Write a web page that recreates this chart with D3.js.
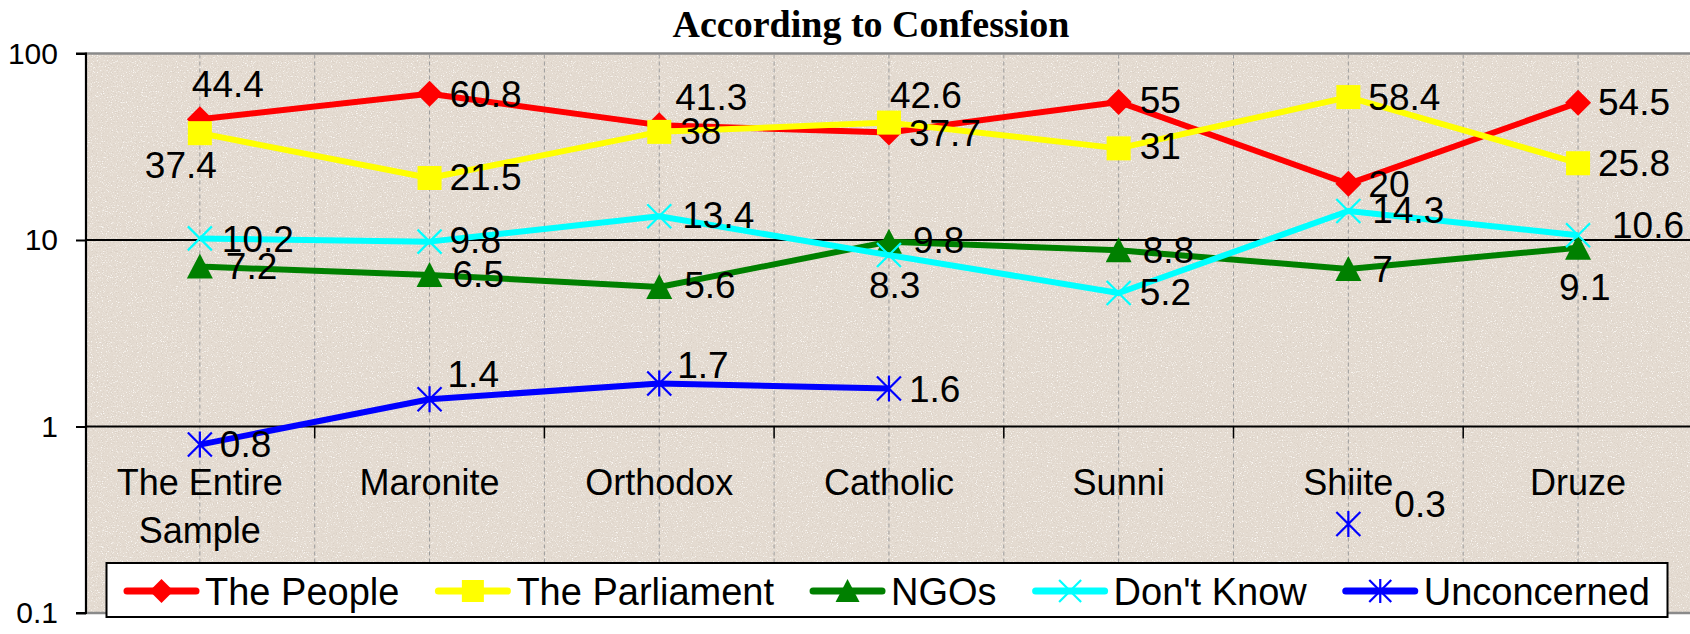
<!DOCTYPE html>
<html>
<head>
<meta charset="utf-8">
<script src="https://cdn.jsdelivr.net/npm/d3@7/dist/d3.min.js"></script>
<style>
  html, body { margin: 0; padding: 0; background: #ffffff; }
  svg { display: block; }
  text { fill: #000; }
</style>
</head>
<body>
<svg id="chart" width="1690" height="634"></svg>
<script>
// ---------------- data ----------------
const title = "According to Confession";
const categories = ["The Entire Sample", "Maronite", "Orthodox", "Catholic", "Sunni", "Shiite", "Druze"];
const seriesNames = ["The People", "The Parliament", "NGOs", "Don't Know", "Unconcerned"];
const people      = [44.4, 60.8, 41.3, 37.7, 55, 20, 54.5];
const parliament  = [37.4, 21.5, 38, 42.6, 31, 58.4, 25.8];
const ngos        = [7.2, 6.5, 5.6, 9.8, 8.8, 7, 9.1];
const dontKnow    = [10.2, 9.8, 13.4, 8.3, 5.2, 14.3, 10.6];
const unconcerned = [0.8, 1.4, 1.7, 1.6, null, 0.3, null];
const yTicks      = [0.1, 1, 10, 100];
const yTickLabels = ["0.1", "1", "10", "100"];

// ---------------- styling ----------------
const SANS = "'Liberation Sans', Arial, sans-serif";
const SERIF = "'Liberation Serif', 'Times New Roman', serif";
const seriesValues = [people, parliament, ngos, dontKnow, unconcerned];
const seriesColors = ["#FF0000", "#FFFF00", "#008000", "#00FFFF", "#0000FF"];
const seriesMarkers = ["diamond", "square", "triangle", "x", "star"];
// label offsets from marker centre: [dx to text start, dy to baseline]
const labelOffsets = [
  [[-8,-22],[20,13],[16,-15],[20,13],[21,11],[20,13],[20,12]],
  [[-55,45],[20,12],[21,12],[1,-15],[21,11],[20,13],[20,13]],
  [[26,12],[23,12],[25,11],[24,11],[24,13],[24,13],[-19,52]],
  [[22,14],[20,11],[23,12],[-20,43],[21,12],[24,12],[34,3]],
  [[20,12],[18,-12],[18,-6],[20,14],null,[46,-7],null]
];

const plot = { left: 86, top: 53.5, bottom: 613, right: 1700 };
const svg = d3.select("#chart");

const x = d3.scaleBand().domain(categories).range([85, 85 + 7 * 229.7]).padding(0);
const bw = x.bandwidth();
const cx = c => x(c) + bw / 2;
const y = d3.scaleLog().domain([0.1, 100]).range([plot.bottom, plot.top]);

// ---------------- texture ----------------
const defs = svg.append("defs");
const f = defs.append("filter").attr("id", "tex")
  .attr("x", 0).attr("y", 0).attr("width", "100%").attr("height", "100%");
f.append("feFlood").attr("flood-color", "#E4DBD1").attr("result", "base");
f.append("feTurbulence").attr("type", "fractalNoise").attr("baseFrequency", 0.8)
  .attr("numOctaves", 2).attr("seed", 7).attr("result", "noise");
f.append("feColorMatrix").attr("in", "noise").attr("type", "matrix")
  .attr("values", "0 0 0 0 0.70  0 0 0 0 0.63  0 0 0 0 0.56  5 0 0 0 -2.8")
  .attr("result", "dark");
f.append("feColorMatrix").attr("in", "noise").attr("type", "matrix")
  .attr("values", "0 0 0 0 0.96  0 0 0 0 0.94  0 0 0 0 0.91  -5 0 0 0 2.0")
  .attr("result", "light");
const m = f.append("feMerge");
m.append("feMergeNode").attr("in", "base");
m.append("feMergeNode").attr("in", "light");
m.append("feMergeNode").attr("in", "dark");

// plot area
svg.append("rect")
  .attr("x", plot.left).attr("y", plot.top)
  .attr("width", plot.right - plot.left).attr("height", plot.bottom - plot.top)
  .attr("filter", "url(#tex)");
svg.append("rect")
  .attr("x", plot.left).attr("y", plot.top)
  .attr("width", plot.right - plot.left).attr("height", plot.bottom - plot.top)
  .attr("fill", "none").attr("stroke", "#8a8a8a").attr("stroke-width", 2.5);

// vertical dashed grid lines (band edges and centres)
const vgrid = [];
categories.forEach((c, i) => { if (i > 0) vgrid.push(x(c)); vgrid.push(cx(c)); });
svg.append("g").selectAll("line").data(vgrid).join("line")
  .attr("x1", d => d).attr("x2", d => d)
  .attr("y1", plot.top + 1).attr("y2", plot.bottom)
  .attr("stroke", "#9c9c9c").attr("stroke-width", 1).attr("stroke-dasharray", "4,3");

// horizontal gridlines
svg.append("g").selectAll("line").data(yTicks.filter(t => t > 0.1 && t < 100)).join("line")
  .attr("x1", plot.left).attr("x2", plot.right)
  .attr("y1", d => y(d)).attr("y2", d => y(d))
  .attr("stroke", "#000").attr("stroke-width", 2);

// category-axis ticks hanging from y = 1
svg.append("g").selectAll("line").data(categories.slice(1)).join("line")
  .attr("x1", d => x(d)).attr("x2", d => x(d))
  .attr("y1", y(1)).attr("y2", y(1) + 12)
  .attr("stroke", "#000").attr("stroke-width", 1.5);

// y axis
const yAxis = d3.axisLeft(y).tickValues(yTicks)
  .tickFormat((d, i) => yTickLabels[i]).tickSize(10).tickPadding(18);
const ga = svg.append("g").attr("transform", `translate(${plot.left},0)`).call(yAxis);
ga.select(".domain").attr("stroke", "#000").attr("stroke-width", 2)
  .attr("d", `M-10,${plot.top}H0V${plot.bottom}H-10`);
ga.selectAll(".tick line").attr("stroke", "#000").attr("stroke-width", 2);
ga.selectAll(".tick text").style("font-size", "30px").style("fill", "#000")
  .style("font-family", SANS);

// category labels (wrapped)
const catFont = 36;
const catG = svg.append("g");
categories.forEach(c => {
  const t = catG.append("text").attr("text-anchor", "middle")
    .style("font-size", catFont + "px").style("font-family", SANS)
    .attr("x", cx(c)).attr("y", 495);
  const words = c.split(" ");
  let ln = [], lines = [];
  const probe = catG.append("text").style("font-size", catFont + "px").style("font-family", SANS);
  words.forEach(w => {
    const test = ln.concat([w]).join(" ");
    probe.text(test);
    if (probe.node().getComputedTextLength() > bw - 20 && ln.length) {
      lines.push(ln.join(" ")); ln = [w];
    } else ln.push(w);
  });
  lines.push(ln.join(" "));
  probe.remove();
  lines.forEach((l, i) => t.append("tspan").attr("x", cx(c)).attr("dy", i === 0 ? 0 : 48).text(l));
});

// ---------------- markers ----------------
function drawMarker(g, type, color, s) {
  if (type === "diamond") {
    g.append("path").attr("d", `M0,${-s}L${s},0L0,${s}L${-s},0Z`).attr("fill", color);
  } else if (type === "square") {
    g.append("rect").attr("x", -s + 1).attr("y", -s + 1).attr("width", 2 * s - 2).attr("height", 2 * s - 2).attr("fill", color);
  } else if (type === "triangle") {
    g.append("path").attr("d", `M0,${-s}L${s},${s - 1}L${-s},${s - 1}Z`).attr("fill", color);
  } else if (type === "x") {
    const k = s - 1;
    g.append("path").attr("d", `M${-k},${-k}L${k},${k}M${-k},${k}L${k},${-k}`)
      .attr("stroke", color).attr("stroke-width", 2.2).attr("fill", "none");
  } else if (type === "star") {
    const k = s - 1;
    g.append("path").attr("d", `M${-k},${-k}L${k},${k}M${-k},${k}L${k},${-k}M0,${-s}L0,${s}`)
      .attr("stroke", color).attr("stroke-width", 2.2).attr("fill", "none");
  }
}

// ---------------- series ----------------
const line = d3.line().defined(d => d.v != null).x(d => d.x).y(d => y(d.v));
seriesValues.forEach((vals, si) => {
  const pts = vals.map((v, i) => ({ v, x: cx(categories[i]), i }));
  const g = svg.append("g");
  g.append("path").attr("d", line(pts)).attr("fill", "none")
    .attr("stroke", seriesColors[si]).attr("stroke-width", 6)
    .attr("stroke-linejoin", "round");
  pts.filter(p => p.v != null).forEach(p => {
    const mg = g.append("g").attr("transform", `translate(${p.x},${y(p.v)})`);
    drawMarker(mg, seriesMarkers[si], seriesColors[si], 13);
  });
});
// data labels on top
const lblG = svg.append("g");
seriesValues.forEach((vals, si) => {
  vals.forEach((v, i) => {
    if (v == null) return;
    const off = labelOffsets[si][i];
    lblG.append("text").style("font-size", "37px").style("font-family", SANS)
      .attr("x", cx(categories[i]) + off[0]).attr("y", y(v) + off[1])
      .text(String(v));
  });
});

// ---------------- title ----------------
svg.append("text").attr("x", 871).attr("y", 37).attr("text-anchor", "middle")
  .style("font-family", SERIF).style("font-weight", "bold").style("font-size", "38px")
  .text(title);

// ---------------- legend ----------------
const lg = svg.append("g");
lg.append("rect").attr("x", 106.5).attr("y", 563).attr("width", 1561).attr("height", 54)
  .attr("fill", "#fff").attr("stroke", "#000").attr("stroke-width", 2);
let lx = 127;
const ly = 591;
seriesNames.forEach((name, si) => {
  lg.append("line").attr("x1", lx).attr("x2", lx + 69).attr("y1", ly).attr("y2", ly)
    .attr("stroke", seriesColors[si]).attr("stroke-width", 7).attr("stroke-linecap", "round");
  const mg = lg.append("g").attr("transform", `translate(${lx + 34.5},${ly})`);
  drawMarker(mg, seriesMarkers[si], seriesColors[si], 12);
  const t = lg.append("text").attr("x", lx + 78).attr("y", ly + 14)
    .style("font-size", "38px").style("font-family", SANS).text(name);
  lx = lx + 78 + t.node().getComputedTextLength() + 39;
});
</script>
</body>
</html>
